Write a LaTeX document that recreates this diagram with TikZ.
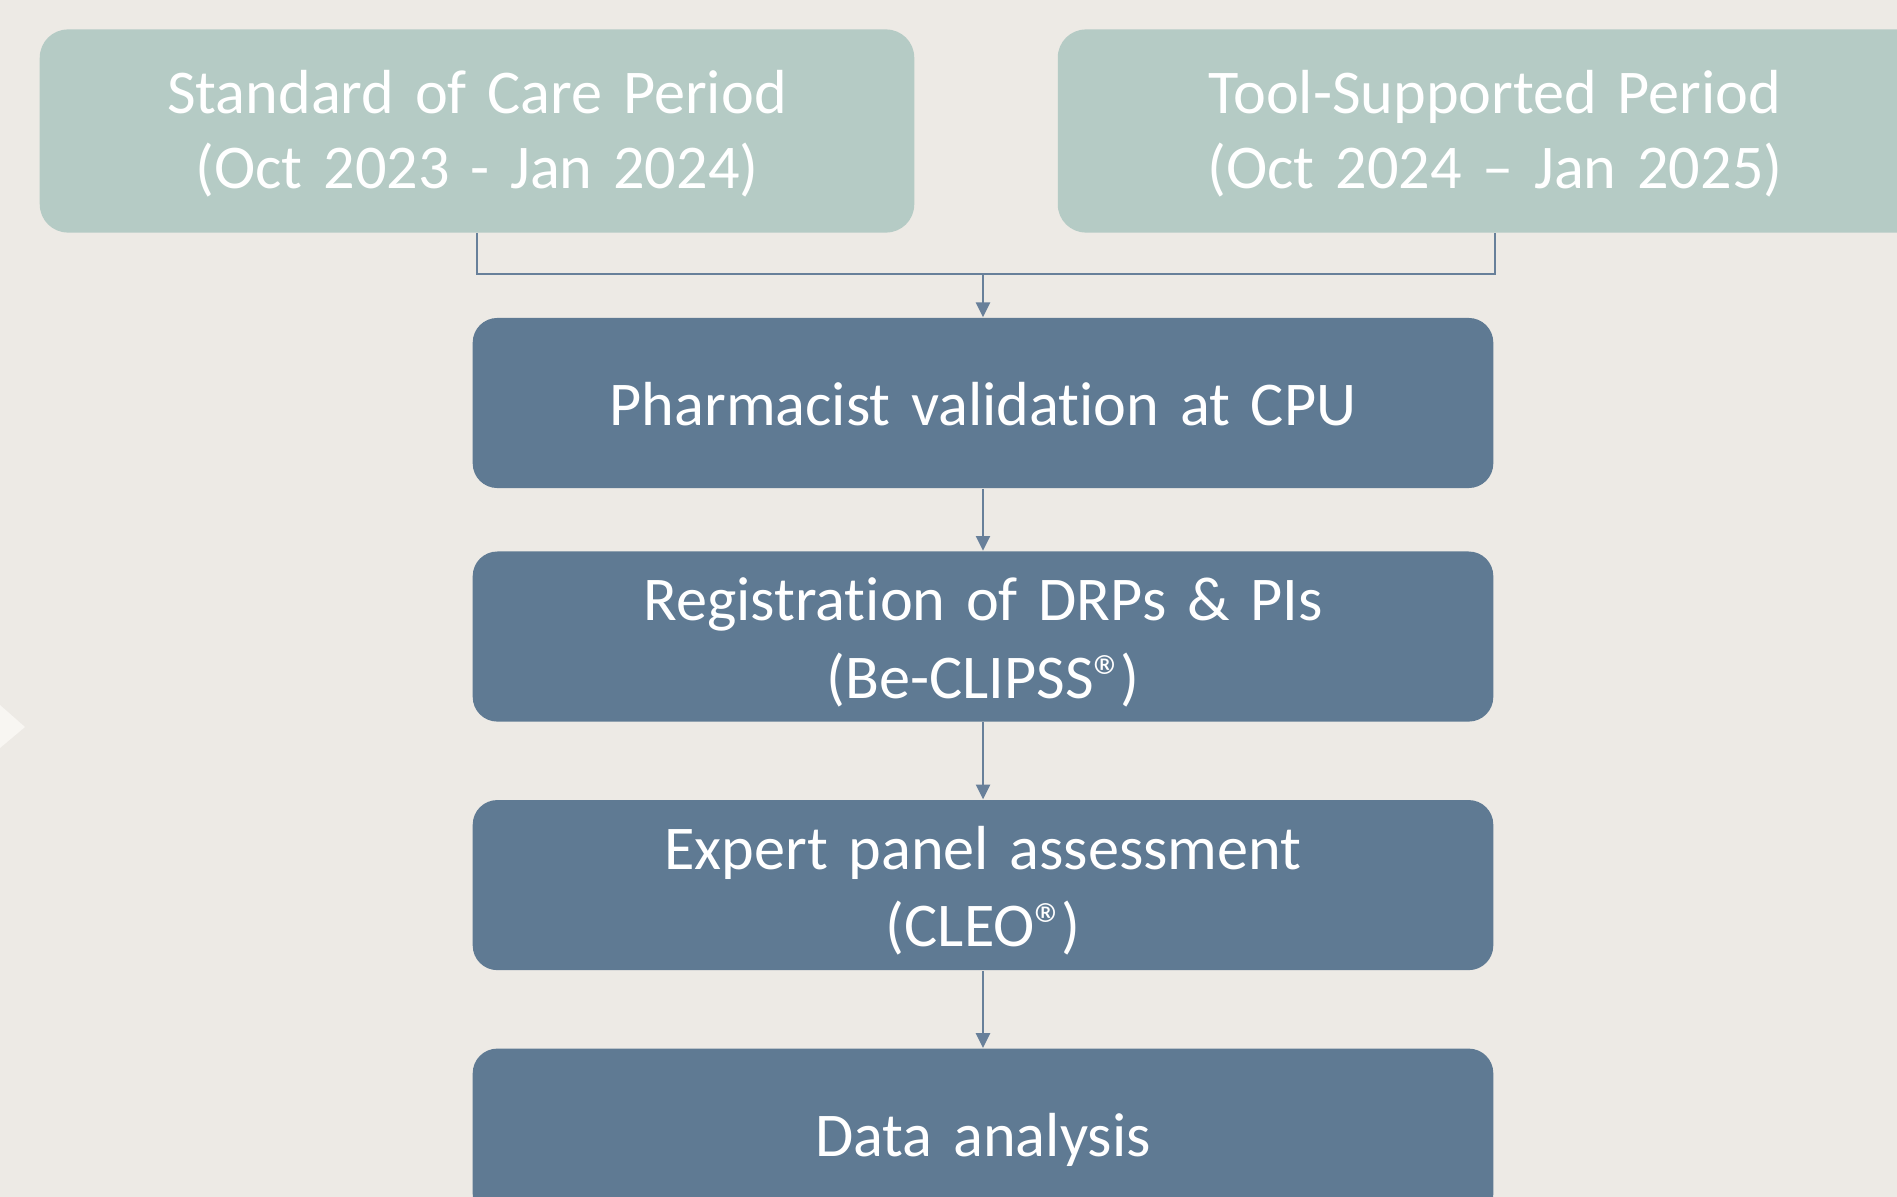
\documentclass[tikz,border=0pt]{standalone}
\usepackage{fontspec}
\setmainfont{Carlito}[Ligatures=NoCommon]
\usepackage{xcolor}
\usepackage{tikz}
\usetikzlibrary{arrows.meta,positioning}
\definecolor{flBack}{RGB}{237,234,229}
\definecolor{flSage}{RGB}{181,203,197}
\definecolor{flSlate}{RGB}{95,122,147}
\definecolor{flLine}{RGB}{104,128,154}
\definecolor{flTip}{RGB}{248,246,242}
% struts keep the text lines at the same place in every box
\newcommand{\flstrut}{\rule[-4pt]{0pt}{21pt}}
\newcommand{\flpstrut}{\rule[-4pt]{0pt}{19.5pt}}
\newcommand{\flreg}{®\kern-0.08em}
\newcommand{\flfont}[1]{\fontsize{17.7}{#1}\selectfont\spaceskip=0.2em plus 0.05em\relax}

\begin{document}
\begin{tikzpicture}[
  x=0.01cm, y=-0.01cm,
  font=\flfont{22},
  period/.style={fill=flSage, rounded corners=8pt, minimum width=8.74cm, minimum height=2.03cm, text width=8.4cm, align=center, text=white, inner sep=0pt,
    font=\flfont{21.3},
    execute at begin node=\flpstrut, execute at end node=\flpstrut},
  stage/.style={fill=flSlate, rounded corners=7pt, minimum width=10.2cm, minimum height=1.7cm, text width=9.8cm, align=center, text=white, inner sep=0pt,
    execute at begin node=\flstrut, execute at end node=\flstrut},
  ln/.style={draw=flLine, line width=0.6pt},
  ar/.style={ln, -{Triangle[length=4.2pt, width=4pt]}}
]
\clip (0,0) rectangle (1897,1197);
\fill[flBack] (0,0) rectangle (1897,1197);
\fill[flTip] (0,705) -- (25,727) -- (0,748) -- cycle;

\node[period] (soc) at (477,131) {Standard of Care Period\\(Oct 2023 - Jan 2024)};
\node[period] (tool) at (1495,131) {Tool-Supported Period\\(Oct 2024 – Jan 2025)};

\node[stage] (pv) at (983,403) {Pharmacist validation at CPU};
\node[stage, below=0.62cm of pv] (reg) {Registration of DRPs \& PIs\\(Be-CLIPSS\flreg)};
\node[stage, below=0.77cm of reg] (cleo) {Expert panel assessment\\(CLEO\flreg)};
\node[stage, below=0.77cm of cleo] (data) {Data analysis};

\coordinate[above=0.43cm of pv] (mrg);
\draw[ln] (soc.south) |- (mrg) -| (tool.south);
\draw[ar] (mrg) -- (pv);
\foreach \x/\y in {pv/reg, reg/cleo, cleo/data} \draw[ar] (\x) -- (\y);
\end{tikzpicture}
\end{document}
